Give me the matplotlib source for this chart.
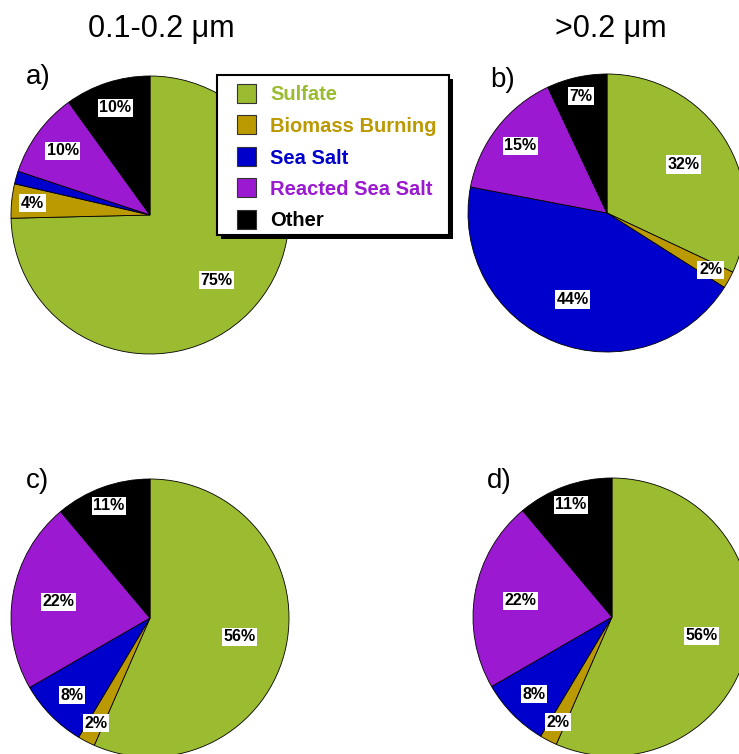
import math
import matplotlib
matplotlib.use("Agg")
import matplotlib.pyplot as plt
from matplotlib.patches import Rectangle

plt.rcParams['font.family'] = ['Liberation Sans', 'DejaVu Sans']

# Particle classes and their colours
categories = ["Sulfate", "Biomass Burning", "Sea Salt", "Reacted Sea Salt", "Other"]
colors = ["#9BBB31", "#BB9900", "#0000CC", "#9B19D1", "#000000"]

# Number fractions (%) for each panel
values_a = [75, 4, 1.5, 10, 10]
values_b = [32, 2, 44, 15, 7]
values_c = [56, 2, 8, 22, 11]
values_d = [56, 2, 8, 22, 11]

# Which wedges carry a percentage label
show_a = [True, True, False, True, True]
show_b = [True, True, True, True, True]
show_c = [True, True, True, True, True]
show_d = [True, True, True, True, True]

panel_tags = ["a)", "b)", "c)", "d)"]
column_titles = ["0.1-0.2 \u03bcm", ">0.2 \u03bcm"]

W, H = 739, 754
fig = plt.figure(figsize=(W / 100, H / 100), dpi=100)
fig.patch.set_facecolor("white")

# radial position of each label (fraction of radius)
label_r_a = [0.67, 0.85, 0.0, 0.78, 0.81]
label_r_b = [0.65, 0.85, 0.67, 0.79, 0.86]
label_r_c = [0.66, 0.85, 0.79, 0.67, 0.86]


def draw_pie(cx, cy, r, values, show, label_r):
    pad = 1.02
    side = 2 * r * pad
    ax = fig.add_axes([(cx - r * pad) / W, (H - cy - r * pad) / H, side / W, side / H])
    wedges, _ = ax.pie(values, colors=colors, startangle=90, counterclock=False,
                       radius=1.0,
                       wedgeprops=dict(edgecolor="black", linewidth=0.6))
    for w, v, s, lr in zip(wedges, values, show, label_r):
        if not s:
            continue
        th = math.radians(0.5 * (w.theta1 + w.theta2))
        ax.text(lr * math.cos(th), lr * math.sin(th), f"{v:g}%",
                ha="center", va="center", fontsize=11.5, fontweight="bold",
                color="black",
                bbox=dict(boxstyle="square,pad=0.1", facecolor="white",
                          edgecolor="none"))
    ax.set_xlim(-pad, pad)
    ax.set_ylim(-pad, pad)
    ax.set_aspect("equal")
    ax.axis("off")
    return ax


draw_pie(150, 215, 139, values_a, show_a, label_r_a)
draw_pie(607, 213, 139, values_b, show_b, label_r_b)
draw_pie(150, 618, 139, values_c, show_c, label_r_c)
draw_pie(612, 617, 139, values_d, show_d, label_r_c)

# Overlay in pixel coordinates for titles, tags and legend
ov = fig.add_axes([0, 0, 1, 1])
ov.set_xlim(0, W)
ov.set_ylim(H, 0)
ov.axis("off")
ov.set_zorder(10)

ov.text(161, 37, column_titles[0], ha="center", va="baseline", fontsize=22)
ov.text(611, 37, column_titles[1], ha="center", va="baseline", fontsize=22)

for tag, (x, y) in zip(panel_tags, [(26, 84), (490, 87), (26, 488), (487, 488)]):
    ov.text(x, y, tag, ha="left", va="baseline", fontsize=20)

# Legend box with drop shadow
ov.add_patch(Rectangle((221, 79), 232, 160, facecolor="black", edgecolor="none"))
ov.add_patch(Rectangle((217, 75), 232, 160, facecolor="white", edgecolor="black",
                       linewidth=1.5))
for i, (name, col) in enumerate(zip(categories, colors)):
    yc = 93 + i * 31.5
    ov.add_patch(Rectangle((237, yc - 9.5), 19, 19, facecolor=col,
                           edgecolor="#333333", linewidth=0.8))
    ov.text(270, yc, name, ha="left", va="center_baseline", fontsize=14.5,
            fontweight="bold", color=col)

fig.savefig("out.png", dpi=100, facecolor="white")
